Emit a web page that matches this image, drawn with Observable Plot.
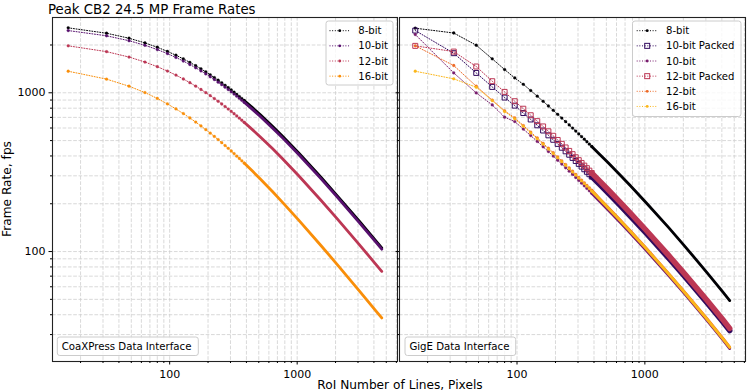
<!DOCTYPE html>
<html>
<head>
<meta charset="utf-8">
<script src="https://cdn.jsdelivr.net/npm/d3@7"></script>
<script src="https://cdn.jsdelivr.net/npm/@observablehq/plot@0.6"></script>
<style>
  body { margin: 0; background: #fff; }
  #wrap { position: relative; width: 750px; height: 392px; overflow: hidden; background: #fff; font-family: "DejaVu Sans", sans-serif; }
  #wrap > svg { position: absolute; top: 0; }
</style>
</head>
<body>
<div id="wrap"></div>
<script>
// ---------------- data ----------------
const chartTitle = "Peak CB2 24.5 MP Frame Rates";
const xAxisLabel = "RoI Number of Lines, Pixels";
const yAxisLabel = "Frame Rate, fps";
const cxpPanelLabel = "CoaXPress Data Interface";
const gigePanelLabel = "GigE Data Interface";

const roiLines = [16,32,48,64,80,96,112,128,144,160,176,192,208,224,240,256,272,288,304,320,336,352,368,384,448,512,640,768,1024,1536,2048,3072,4096,4608];

const cxpLabels = ["8-bit", "10-bit", "12-bit", "16-bit"];
const cxp8bit  = [2565,2372,2206,2062,1935,1823,1724,1635,1554,1481,1415,1354,1298,1247,1200,1156,1115,1077,1041,1008,977,947,920,894,803,729,615,532,419,294,226,155.2,118,105.4];
const cxp10bit = [2466,2285,2128,1991,1871,1765,1669,1584,1507,1437,1374,1315,1262,1212,1167,1124.5,1085,1048,1014,982,952,923.5,897,872,783,711.5,601,520,410,288,222,152.3,115.9,103.5];
const cxp12bit = [1976,1816,1679,1562,1460,1371,1292,1221,1158,1101,1049,1002,959,920,884,850,819,790,763,738,714,692,671.5,652,584,529,445,384,301,210.5,161.8,110.6,84,75];
const cxp16bit = [1367,1219,1100,1003,921,851,791,739.5,694,654,618,586,557,531,507,485,465,447,430,414,399,385.6,372.8,360.9,320,287.3,238.7,204.1,158.3,109.2,83.4,56.6,42.8,38.2];

const gigeLabels = ["8-bit", "10-bit Packed", "10-bit", "12-bit Packed", "12-bit", "16-bit"];
const gige8bit        = [2552,2380,1993,1636,1401,1240,1131,1033,951.4,883.7,825.5,775.5,731.5,692.8,658.1,627.2,599.1,573.7,550.5,529.3,509.7,491.6,474.9,459.3,406.2,364.7,303.5,260.3,203.1,141.4,108.3,73.5,55.3,49.1];
const gige10bitPacked = [2466,1776,1334,1089,933,830,745.5,679.1,624.0,578.6,539.5,505.9,476.5,450.8,427.9,407.3,388.8,371.9,356.6,342.7,329.9,317.9,306.9,296.7,262.0,235.0,195.2,167.4,130.4,90.8,69.6,47.5,35.9,31.8];
const gige10bit       = [2328,1334,998,839,702,659,590.6,537.5,493.6,457.2,426.2,399.3,375.9,355.4,337.2,320.8,306.2,292.7,280.6,269.5,259.3,249.8,241.2,233.0,205.5,184.2,152.7,130.8,101.7,70.6,54.1,36.7,27.7,24.5];
const gige12bitPacked = [1975,1818,1464,1183,1013,885,793.7,722.1,662.9,614.0,572.1,536.1,504.6,477.0,452.5,430.5,410.7,392.7,376.4,361.5,347.8,335.1,323.4,312.5,275.6,246.9,204.7,175.2,136.2,94.5,72.3,49.1,37.0,32.8];
const gige12bit       = [1975,1485,1100,900,770,694,622,565.5,518.9,480.3,447.4,419.0,394.2,372.5,353.3,336.0,320.5,306.3,293.5,281.8,271.0,261.1,252.0,243.4,213.2,190.8,158.0,135.2,104.9,72.6,55.5,37.6,28.3,25.0];
const gige16bit       = [1367,1224,1084,893,762,686,614.6,558.8,512.7,474.6,442.1,414.0,389.5,368.1,349.1,332.0,316.7,302.7,290.0,278.5,267.8,258.0,249.0,240.5,211.9,189.7,157.1,134.4,104.3,72.2,55.2,37.4,28.1,24.9];

const xTickLabels = [100, 1000];
const yTickLabels = [100, 1000];
const xMinorTicks = [20,30,40,50,60,70,80,90,200,300,400,500,600,700,800,900,2000,3000,4000,5000,6000];
const yMinorTicks = [30,40,50,60,70,80,90,200,300,400,500,600,700,800,900,2000];

// ---------------- styles ----------------
const cxpColors  = [0, 0.25, 0.5, 0.75].map(t => d3.interpolateInferno(t));
const gigeColors = [0, 1/6, 2/6, 3/6, 4/6, 5/6].map(t => d3.interpolateInferno(t));
const cxpPacked  = [false, false, false, false];
const gigePacked = [false, true, false, true, false, false];
const denseFrom = 384;

const xDomain = [12.05, 6124];
const yDomain = [20.3, 2980];
const gridStyle = {stroke: "#cfcfcf", strokeOpacity: 1, strokeWidth: 0.8, strokeDasharray: "3.7,1.6"};

function panel({series, colors, packed, width, marginLeft, marginRight, showYLabels}) {
  const marks = [
    Plot.gridX([...xMinorTicks, ...xTickLabels], gridStyle),
    Plot.gridY([...yMinorTicks, ...yTickLabels], gridStyle)
  ];
  series.forEach((vals, k) => {
    const rows = roiLines.map((n, i) => ({n, fps: vals[i]}));
    const sparse = rows.filter(d => d.n <= denseFrom);
    const dense = rows.filter(d => d.n >= denseFrom);
    const c = colors[k];
    marks.push(Plot.line(rows, {x: "n", y: "fps", stroke: c, strokeWidth: 1, strokeDasharray: "1,1.65"}));
    marks.push(Plot.line(dense, {x: "n", y: "fps", stroke: c, strokeWidth: packed[k] ? 5.5 : 2.8, strokeLinecap: "round"}));
    if (packed[k]) {
      marks.push(Plot.dot(sparse, {x: "n", y: "fps", symbol: "square", r: 2.8, stroke: c, fill: "none", strokeWidth: 1}));
    } else {
      marks.push(Plot.dot(sparse, {x: "n", y: "fps", r: 1.4, fill: c, stroke: c, strokeWidth: 0.3}));
    }
  });
  marks.push(Plot.frame({stroke: "#222", strokeWidth: 1.1}));
  marks.push(Plot.axisX({ticks: xTickLabels, tickSize: 3.5, tickPadding: 5, tickFormat: d => String(d), label: null}));
  marks.push(Plot.axisX({ticks: xMinorTicks, tickSize: 2, tickFormat: () => "", label: null}));
  marks.push(Plot.axisY({ticks: yTickLabels, tickSize: 3.5, tickPadding: 3.5, tickFormat: showYLabels ? (d => String(d)) : (() => ""), label: null}));
  marks.push(Plot.axisY({ticks: yMinorTicks, tickSize: 2, tickFormat: () => "", label: null}));
  return Plot.plot({
    width, height: 392,
    marginLeft, marginRight, marginTop: 17, marginBottom: 31,
    x: {type: "log", domain: xDomain},
    y: {type: "log", domain: yDomain},
    style: {background: "transparent", fontFamily: "DejaVu Sans", fontSize: "11px", color: "#000", overflow: "visible"},
    marks
  });
}

const wrap = document.getElementById("wrap");
const left = panel({series: [cxp8bit, cxp10bit, cxp12bit, cxp16bit], colors: cxpColors, packed: cxpPacked,
  width: 398, marginLeft: 52, marginRight: 1, showYLabels: true});
left.style.left = "0px";
wrap.appendChild(left);
const right = panel({series: [gige8bit, gige10bitPacked, gige10bit, gige12bitPacked, gige12bit, gige16bit], colors: gigeColors, packed: gigePacked,
  width: 360, marginLeft: 9, marginRight: 5, showYLabels: false});
right.style.left = "390px";
wrap.appendChild(right);

// ---------------- overlay text, legends, annotations ----------------
const ov = d3.select(wrap).append("svg").attr("width", 750).attr("height", 392)
  .style("position", "absolute").style("left", "0px").style("top", "0px")
  .style("font-family", "DejaVu Sans");

ov.append("text").attr("x", 48).attr("y", 14).attr("font-size", 13.3).text(chartTitle);
ov.append("text").attr("x", 400).attr("y", 389).attr("text-anchor", "middle").attr("font-size", 12.2).text(xAxisLabel);
ov.append("text").attr("transform", "translate(10.5,189) rotate(-90)").attr("text-anchor", "middle").attr("font-size", 12.2).text(yAxisLabel);

function annot(x, w, label) {
  ov.append("rect").attr("x", x).attr("y", 337).attr("width", w).attr("height", 18.5).attr("rx", 2.5)
    .attr("fill", "#fff").attr("fill-opacity", 0.8).attr("stroke", "#cccccc");
  ov.append("text").attr("x", x + 4.4).attr("y", 349.6).attr("font-size", 10.2).text(label);
}
annot(57.3, 141, cxpPanelLabel);
annot(405, 110.7, gigePanelLabel);

function legend(x, y, w, h, labels, colors, packed, sx1, sx2, tx) {
  ov.append("rect").attr("x", x).attr("y", y).attr("width", w).attr("height", h).attr("rx", 2.5)
    .attr("fill", "#fff").attr("fill-opacity", 0.8).attr("stroke", "#cccccc");
  labels.forEach((lab, i) => {
    const cy = y + 9.7 + i * 15.15;
    const c = colors[i];
    ov.append("line").attr("x1", sx1).attr("x2", sx2).attr("y1", cy).attr("y2", cy)
      .attr("stroke", c).attr("stroke-width", 1).attr("stroke-dasharray", "1,1.65");
    const mx = (sx1 + sx2) / 2;
    if (packed[i]) {
      ov.append("rect").attr("x", mx - 2.5).attr("y", cy - 2.5).attr("width", 5).attr("height", 5)
        .attr("fill", "none").attr("stroke", c).attr("stroke-width", 1);
    } else {
      ov.append("circle").attr("cx", mx).attr("cy", cy).attr("r", 1.4).attr("fill", c);
    }
    ov.append("text").attr("x", tx).attr("y", cy + 3.6).attr("font-size", 10.1).text(lab);
  });
}
legend(326, 21, 67, 64, cxpLabels, cxpColors, cxpPacked, 329.5, 350, 358.3);
legend(632.5, 21, 108.5, 95.5, gigeLabels, gigeColors, gigePacked, 636.7, 657.7, 666);
</script>
</body>
</html>
